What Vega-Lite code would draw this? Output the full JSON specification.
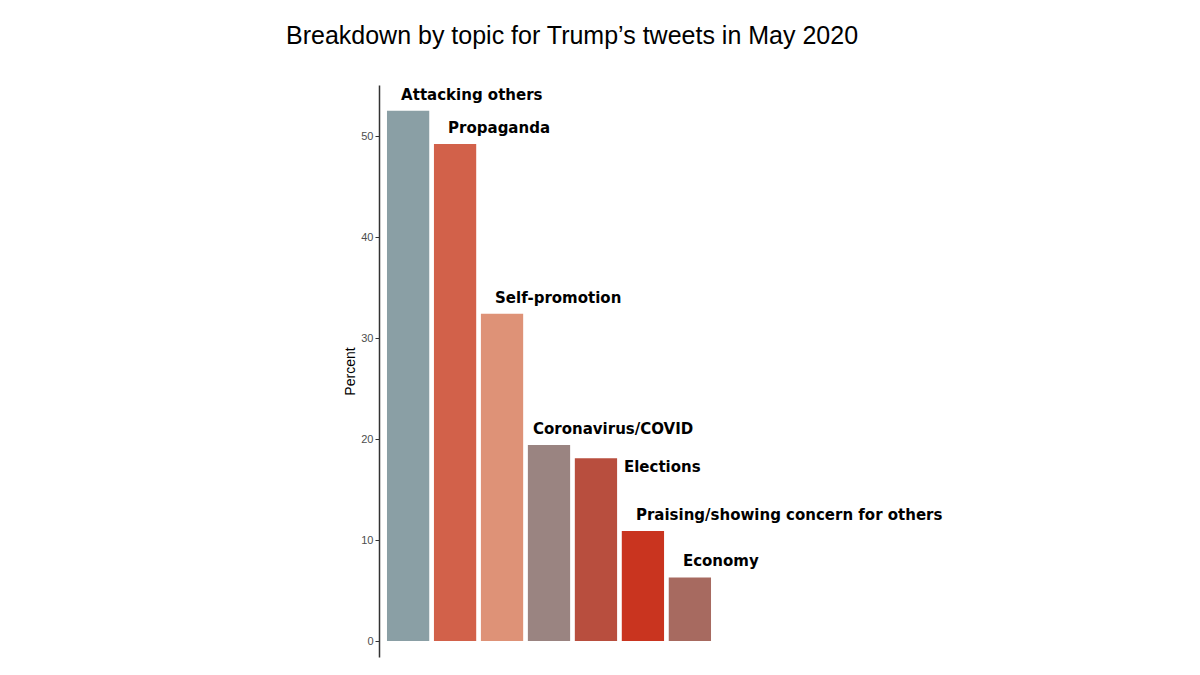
{
  "$schema": "https://vega.github.io/schema/vega-lite/v6.json",
  "width": 340,
  "height": 572,
  "autosize": {"type": "none"},
  "padding": {"left": 379, "top": 85, "right": 481, "bottom": 18},
  "background": "white",
  "config": {"view": {"stroke": null}, "font": "Liberation Sans"},
  "title": {
    "text": "Breakdown by topic for Trump’s tweets in May 2020",
    "anchor": "start",
    "frame": "group",
    "dx": -93,
    "offset": 36,
    "fontSize": 25,
    "fontWeight": "normal",
    "font": "Liberation Sans",
    "color": "black"
  },
  "data": {
    "values": [
      {"topic": "Attacking others", "percent": 52.5},
      {"topic": "Propaganda", "percent": 49.2},
      {"topic": "Self-promotion", "percent": 32.4},
      {"topic": "Coronavirus/COVID", "percent": 19.4},
      {"topic": "Elections", "percent": 18.1},
      {"topic": "Praising/showing concern for others", "percent": 10.9},
      {"topic": "Economy", "percent": 6.3}
    ]
  },
  "encoding": {
    "x": {
      "field": "topic",
      "type": "nominal",
      "sort": null,
      "scale": {"paddingInner": 0.1, "paddingOuter": 0.17},
      "axis": null
    },
    "y": {
      "field": "percent",
      "type": "quantitative",
      "scale": {"domain": [-1.58, 55.05], "nice": false, "zero": false},
      "axis": {
        "title": "Percent",
        "titleFontSize": 14,
        "titleFontWeight": "normal",
        "titleColor": "black",
        "titlePadding": 3,
        "values": [0, 10, 20, 30, 40, 50],
        "grid": false,
        "domainColor": "#333333",
        "domainWidth": 1.5,
        "tickColor": "#333333",
        "tickSize": 4,
        "labelFontSize": 11,
        "labelColor": "#4d4d4d",
        "labelPadding": 2
      }
    }
  },
  "layer": [
    {
      "mark": {"type": "bar", "y2": {"expr": "scale('y', 0)"}},
      "encoding": {
        "color": {
          "field": "topic",
          "type": "nominal",
          "sort": null,
          "legend": null,
          "scale": {
            "domain": ["Attacking others", "Propaganda", "Self-promotion", "Coronavirus/COVID", "Elections", "Praising/showing concern for others", "Economy"],
            "range": ["#8a9fa5", "#d2614a", "#de9277", "#9a8481", "#b84e3e", "#c9341f", "#a76a60"]
          }
        }
      }
    },
    {
      "transform": [{"filter": "datum.topic !== 'Elections' && datum.topic !== 'Coronavirus/COVID'"}],
      "mark": {"type": "text", "align": "left", "baseline": "middle", "dx": -7, "dy": -16, "font": "DejaVu Sans", "fontWeight": "bold", "fontSize": 15, "color": "black"},
      "encoding": {"text": {"field": "topic"}}
    },
    {
      "transform": [{"filter": "datum.topic === 'Coronavirus/COVID'"}],
      "mark": {"type": "text", "align": "left", "baseline": "middle", "dx": -16, "dy": -16, "font": "DejaVu Sans", "fontWeight": "bold", "fontSize": 15, "color": "black"},
      "encoding": {"text": {"field": "topic"}}
    },
    {
      "transform": [{"filter": "datum.topic === 'Elections'"}],
      "mark": {"type": "text", "align": "left", "baseline": "middle", "dx": 28, "dy": 9, "font": "DejaVu Sans", "fontWeight": "bold", "fontSize": 15, "color": "black"},
      "encoding": {"text": {"field": "topic"}}
    }
  ]
}
